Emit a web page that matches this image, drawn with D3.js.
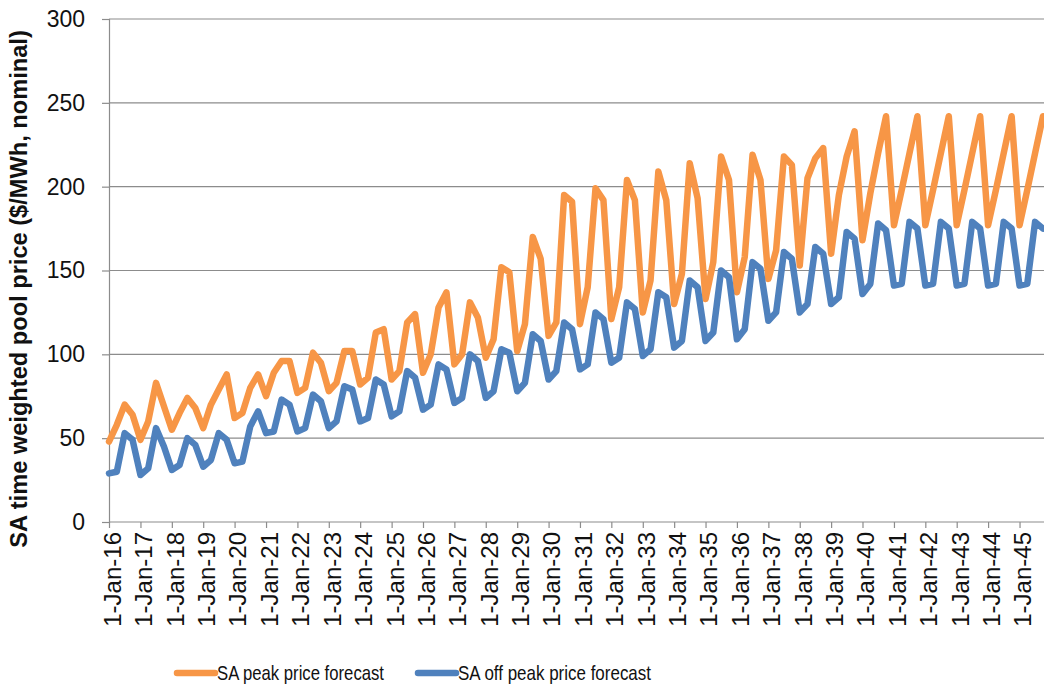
<!DOCTYPE html>
<html>
<head>
<meta charset="utf-8">
<script src="https://cdn.jsdelivr.net/npm/d3@7"></script>
<style>
  body { margin: 0; background: #fff; }
  svg { display: block; font-family: 'Liberation Sans', Arial, sans-serif; }
</style>
</head>
<body>
<div id="svg-container"></div>
<script>
// quarterly forecast, Jan 2016 .. Oct 2045 (4 values per year)
const peakPrice = [
  48, 58, 70, 64,   49, 60, 83, 69,   55, 65, 74, 68,   56, 70, 79, 88,
  62, 65, 80, 88,   75, 89, 96, 96,   77, 80, 101, 95,  78, 83, 102, 102,
  82, 86, 113, 115, 85, 90, 119, 124, 89, 100, 128, 137, 94, 100, 131, 122,
  98, 109, 152, 149, 102, 118, 170, 157, 111, 119, 195, 191, 118, 140, 199, 192,
  121, 140, 204, 192, 125, 144, 209, 192, 130, 148, 214, 193, 133, 155, 218, 204,
  137, 158, 219, 204, 145, 162, 218, 213, 153, 205, 217, 223, 160, 195, 218, 233,
  168, 196, 220, 242, 177, 198, 220, 242, 177, 198, 220, 242, 177, 198, 220, 242,
  177, 198, 220, 242, 177, 198, 220, 242,
]
const offPeakPrice = [
  29, 30, 53, 49,   28, 32, 56, 45,   31, 34, 50, 46,   33, 37, 53, 49,
  35, 36, 57, 66,   53, 54, 73, 70,   54, 56, 76, 72,   56, 60, 81, 79,
  60, 62, 85, 82,   63, 66, 90, 86,   67, 70, 94, 91,   71, 74, 100, 96,
  74, 78, 103, 101, 78, 83, 112, 108, 85, 90, 119, 115, 91, 94, 125, 121,
  95, 98, 131, 127, 99, 103, 137, 134, 104, 108, 144, 140, 108, 113, 150, 146,
  109, 115, 155, 151, 120, 125, 161, 157, 125, 130, 164, 160, 130, 134, 173, 169,
  136, 142, 178, 174, 141, 142, 179, 175, 141, 142, 179, 175, 141, 142, 179, 175,
  141, 142, 179, 175, 141, 142, 179, 175,
]
const seriesNames = ['SA peak price forecast', 'SA off peak price forecast']
const seriesColors = ['#f79646', '#4f81bd']
const yTicks = [0, 50, 100, 150, 200, 250, 300]
const yAxisTitle = 'SA time weighted pool price ($/MWh, nominal)'

const svgWidth = 1044
const svgHeight = 688
const plotLeft = 109
const plotRight = 1043
const plotTop = 19
const plotBottom = 522
const gridColor = '#8c8c8c'
const textColor = '#111'

const quarters = d3.timeMonth.every(3).range(new Date(2016, 0, 1), new Date(2045, 10, 1))
const yearTicks = d3.timeYear.range(new Date(2016, 0, 1), new Date(2045, 1, 1))

const series = [peakPrice, offPeakPrice].map((values, i) => ({
  name: seriesNames[i],
  color: seriesColors[i],
  values: values.map((v, j) => ({ date: quarters[j], value: v })),
}))

const xScale = d3.scaleTime().domain(d3.extent(quarters)).range([plotLeft, plotRight])
const yScale = d3.scaleLinear().domain([0, 300]).range([plotBottom, plotTop])

const svg = d3
  .select('#svg-container')
  .append('svg')
  .attr('width', svgWidth)
  .attr('height', svgHeight)

svg.append('rect').attr('width', svgWidth).attr('height', svgHeight).attr('fill', '#fff')

// horizontal gridlines
svg
  .append('g')
  .selectAll('line')
  .data(yTicks.filter(d => d > 0))
  .join('line')
  .attr('x1', plotLeft)
  .attr('x2', svgWidth)
  .attr('y1', d => yScale(d))
  .attr('y2', d => yScale(d))
  .attr('stroke', gridColor)
  .attr('stroke-width', 1.2)

// y-axis
const yAxis = svg
  .append('g')
  .attr('transform', `translate(${plotLeft}, 0)`)
  .call(d3.axisLeft(yScale).tickValues(yTicks).tickSize(7).tickPadding(17))
yAxis.select('.domain').attr('stroke', gridColor).attr('stroke-width', 1.2)
yAxis.selectAll('.tick line').attr('stroke', gridColor).attr('stroke-width', 1.2)
yAxis
  .selectAll('.tick text')
  .attr('fill', textColor)
  .style('font-size', '23px')
  .attr('font-family', null)

// x-axis
const xAxis = svg
  .append('g')
  .attr('transform', `translate(0, ${plotBottom})`)
  .call(
    d3
      .axisBottom(xScale)
      .tickValues(yearTicks)
      .tickFormat(d3.timeFormat('%-d-%b-%y'))
      .tickSize(6)
      .tickSizeOuter(0),
  )
xAxis.select('.domain').attr('stroke', gridColor).attr('stroke-width', 1.2).attr('d', `M${plotLeft},0H${svgWidth}`)
xAxis.selectAll('.tick line').attr('stroke', gridColor).attr('stroke-width', 1.2)
xAxis
  .selectAll('.tick text')
  .attr('fill', textColor)
  .attr('font-family', null)
  .style('font-size', '24px')
  .attr('text-anchor', 'end')
  .attr('transform', 'rotate(-90)')
  .attr('x', -10)
  .attr('y', 3)
  .attr('dy', '0.35em')

// y-axis title, sized to span the axis like the reference
const title = svg
  .append('text')
  .attr('transform', 'translate(19, 289) rotate(-90)')
  .attr('text-anchor', 'middle')
  .attr('dy', '0.35em')
  .attr('fill', textColor)
  .style('font-weight', 700)
  .style('font-size', '20px')
  .text(yAxisTitle)
const titleLength = title.node().getComputedTextLength()
title.style('font-size', `${(20 * 518) / titleLength}px`)

// lines
const line = d3
  .line()
  .x(d => xScale(d.date))
  .y(d => yScale(d.value))

svg
  .append('g')
  .selectAll('path')
  .data(series)
  .join('path')
  .attr('d', d => line(d.values))
  .attr('fill', 'none')
  .attr('stroke', d => d.color)
  .attr('stroke-width', 6.5)
  .attr('stroke-linejoin', 'round')
  .attr('stroke-linecap', 'round')

// legend (text squeezed a little to mimic the narrow Calibri of the original)
const legendX = [177, 418]
const legendTextWidth = [167, 193]
const legendItem = svg
  .append('g')
  .selectAll('g')
  .data(series)
  .join('g')
  .attr('transform', (d, i) => `translate(${legendX[i]}, 673)`)
legendItem
  .append('line')
  .attr('x1', 0)
  .attr('x2', 38)
  .attr('stroke', d => d.color)
  .attr('stroke-width', 6.5)
  .attr('stroke-linecap', 'round')
legendItem
  .append('text')
  .attr('x', 40)
  .attr('dy', '0.35em')
  .attr('fill', textColor)
  .attr('textLength', (d, i) => legendTextWidth[i])
  .attr('lengthAdjust', 'spacingAndGlyphs')
  .style('font-size', '21px')
  .text(d => d.name)
</script>
</body>
</html>
